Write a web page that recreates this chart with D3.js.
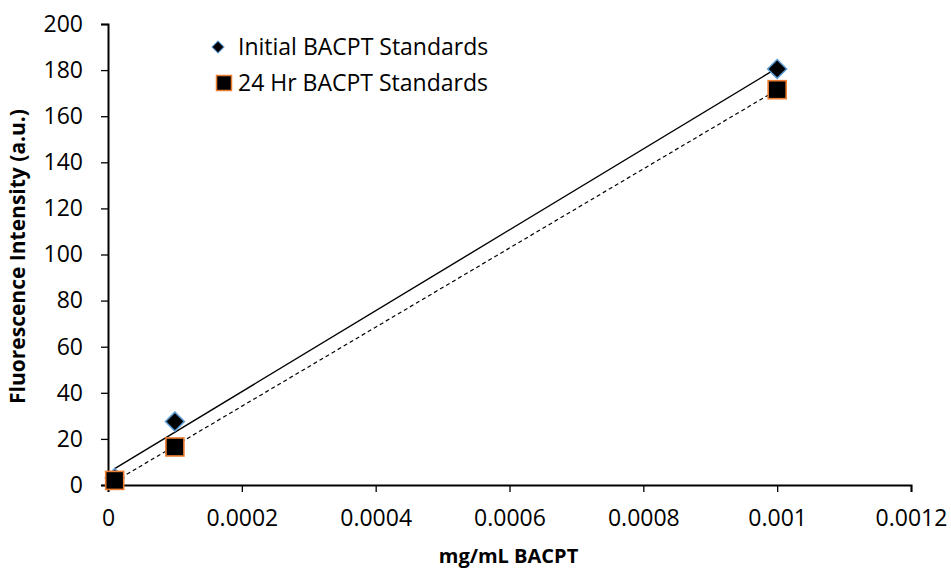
<!DOCTYPE html>
<html>
<head>
<meta charset="utf-8">
<script src="https://cdn.jsdelivr.net/npm/d3@7"></script>
<style>
  body { margin: 0; background: #fff; }
  svg text { font-family: "Open Sans", sans-serif; fill: #000; }
</style>
</head>
<body>
<svg id="chart" width="951" height="571"></svg>
<script>
// data
var concentrations = [0.00001, 0.0001, 0.001];
var initialValues = [3, 27.5, 180.5];
var hr24Values = [2, 16.5, 171.5];
var xTicks = [0, 0.0002, 0.0004, 0.0006, 0.0008, 0.001, 0.0012];
var yTicks = [0, 20, 40, 60, 80, 100, 120, 140, 160, 180, 200];
var seriesNames = ["Initial BACPT Standards", "24 Hr BACPT Standards"];

var margin = { left: 108, right: 40, top: 24, bottom: 86 };
var width = 951 - margin.left - margin.right;
var height = 571 - margin.top - margin.bottom;

var svg = d3.select("#chart");
var g = svg.append("g").attr("transform", "translate(" + margin.left + "," + margin.top + ")");

var x = d3.scaleLinear().domain([0, 0.0012]).range([0, width]);
var y = d3.scaleLinear().domain([0, 200]).range([height, 0]);

// linear trendline (least squares), like excel
function fit(xs, ys) {
    var mx = d3.mean(xs), my = d3.mean(ys);
    var sxy = d3.sum(xs, function (d, i) { return (d - mx) * (ys[i] - my); });
    var sxx = d3.sum(xs, function (d) { return (d - mx) * (d - mx); });
    var b = sxy / sxx;
    return { slope: b, icpt: my - b * mx };
}

var xAxis = g.append("g")
    .attr("class", "x axis")
    .attr("transform", "translate(0," + height + ")")
    .call(d3.axisBottom(x).tickValues(xTicks).tickSize(7).tickPadding(18)
        .tickFormat(function (d) { return d === 0 ? "0" : String(+d.toFixed(4)); }));

var yAxis = g.append("g")
    .attr("class", "y axis")
    .call(d3.axisLeft(y).tickValues(yTicks).tickSize(7).tickPadding(18));

svg.selectAll(".axis path").attr("stroke", "#000").attr("stroke-width", 2);
svg.selectAll(".axis line").attr("stroke", "#000").attr("stroke-width", 1.3);
svg.selectAll(".axis text").style("font-size", "23px").attr("fill", "#000");

// trendlines
var fitA = fit(concentrations, initialValues);
var fitB = fit(concentrations, hr24Values);
var x0 = d3.min(concentrations), x1 = d3.max(concentrations);

g.append("line")
    .attr("x1", x(x0)).attr("y1", y(fitA.icpt + fitA.slope * x0))
    .attr("x2", x(x1)).attr("y2", y(fitA.icpt + fitA.slope * x1))
    .attr("stroke", "#000").attr("stroke-width", 1.4);

g.append("line")
    .attr("x1", x(x0)).attr("y1", y(fitB.icpt + fitB.slope * x0))
    .attr("x2", x(x1)).attr("y2", y(fitB.icpt + fitB.slope * x1))
    .attr("stroke", "#000").attr("stroke-width", 1.2)
    .attr("stroke-dasharray", "4,3");

// markers
var diamond = d3.symbol().type(d3.symbolSquare).size(180);

g.selectAll(".dia")
    .data(concentrations)
    .enter().append("path")
    .attr("class", "dia")
    .attr("d", diamond)
    .attr("transform", function (d, i) { return "translate(" + x(d) + "," + y(initialValues[i]) + ") rotate(45)"; })
    .attr("fill", "#000")
    .attr("stroke", "#5B9BD5")
    .attr("stroke-width", 1.5);

g.selectAll(".sq")
    .data(concentrations)
    .enter().append("rect")
    .attr("class", "sq")
    .attr("x", function (d) { return x(d) - 9; })
    .attr("y", function (d, i) { return y(hr24Values[i]) - 9; })
    .attr("width", 18).attr("height", 18)
    .attr("fill", "#000")
    .attr("stroke", "#ED7D31")
    .attr("stroke-width", 1.6);

// legend
var legend = svg.append("g").attr("transform", "translate(224,47)");
legend.append("path")
    .attr("d", d3.symbol().type(d3.symbolSquare).size(72))
    .attr("transform", "translate(-6,0) rotate(45)")
    .attr("fill", "#000").attr("stroke", "#5B9BD5").attr("stroke-width", 1);
legend.append("rect")
    .attr("x", -7.5).attr("y", 28.5).attr("width", 15).attr("height", 15)
    .attr("fill", "#000").attr("stroke", "#ED7D31").attr("stroke-width", 1.5);
legend.selectAll("text")
    .data(seriesNames)
    .enter().append("text")
    .attr("x", 14)
    .attr("y", function (d, i) { return i * 36; })
    .attr("dy", "0.36em")
    .style("font-size", "23px")
    .text(function (d) { return d; });

// axis titles
svg.append("text")
    .attr("x", margin.left + width / 2 - 1)
    .attr("y", 563)
    .attr("text-anchor", "middle")
    .style("font-size", "20px")
    .style("font-weight", "bold")
    .text("mg/mL BACPT");

svg.append("text")
    .attr("transform", "translate(25," + (margin.top + height / 2 + 2) + ") rotate(-90)")
    .attr("text-anchor", "middle")
    .style("font-size", "21px")
    .style("font-weight", "bold")
    .text("Fluorescence Intensity (a.u.)");
</script>
</body>
</html>
